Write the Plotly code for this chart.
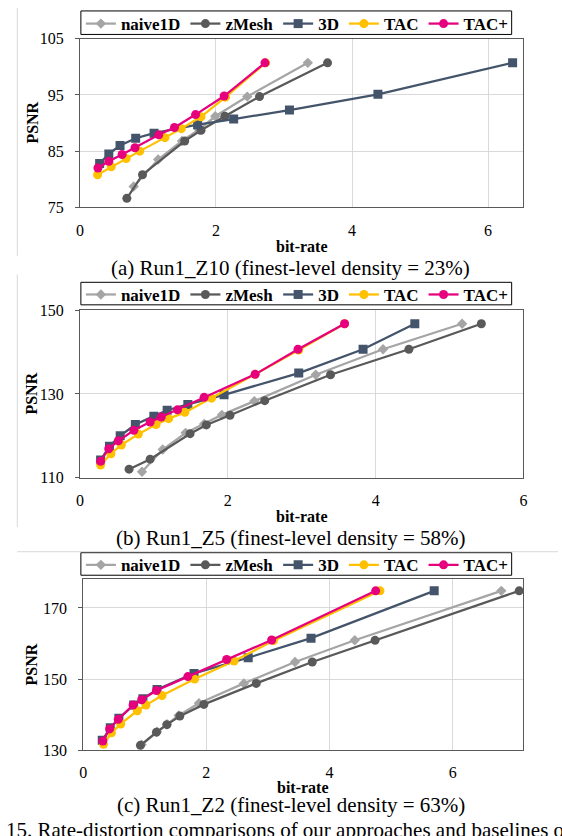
import plotly.graph_objects as go

W, H = 562, 836

series_names = ["naive1D", "zMesh", "3D", "TAC", "TAC+"]
series_colors = ["#A5A5A5", "#595959", "#44546A", "#FFC000", "#E6007E"]
series_symbols = ["diamond", "circle", "square", "circle", "circle"]
series_sizes = [8, 9, 9, 9, 9]

# ---- Panel (a) Run1_Z10 ----
a_naive_x = [0.79, 1.15, 1.50, 1.75, 1.99, 2.46, 3.35]
a_naive_y = [78.7, 83.5, 86.8, 88.8, 91.2, 94.7, 100.7]
a_zmesh_x = [0.69, 0.92, 1.54, 1.78, 2.13, 2.64, 3.64]
a_zmesh_y = [76.6, 80.8, 86.8, 88.7, 91.2, 94.7, 100.7]
a_3d_x = [0.29, 0.425, 0.59, 0.82, 1.09, 1.73, 2.26, 3.08, 4.38, 6.36]
a_3d_y = [82.8, 84.5, 86.0, 87.3, 88.2, 89.7, 90.7, 92.3, 95.1, 100.7]
a_tac_x = [0.26, 0.46, 0.68, 0.88, 1.25, 1.49, 1.78, 2.14, 2.73]
a_tac_y = [80.8, 82.2, 83.7, 85.0, 87.4, 89.0, 91.1, 94.6, 100.7]
a_tacp_x = [0.265, 0.425, 0.62, 0.81, 1.16, 1.39, 1.70, 2.12, 2.72]
a_tacp_y = [82.0, 83.2, 84.4, 85.6, 87.9, 89.2, 91.5, 94.8, 100.7]

# ---- Panel (b) Run1_Z5 ----
b_naive_x = [0.84, 1.12, 1.43, 1.68, 1.92, 2.36, 3.19, 4.10, 5.17]
b_naive_y = [111.4, 116.7, 120.7, 122.8, 125.0, 128.3, 134.6, 140.7, 146.8]
b_zmesh_x = [0.665, 0.95, 1.49, 1.71, 2.03, 2.50, 3.39, 4.45, 5.43]
b_zmesh_y = [112.0, 114.4, 120.5, 122.6, 124.9, 128.4, 134.6, 140.7, 146.8]
b_3d_x = [0.28, 0.40, 0.545, 0.75, 1.0, 1.18, 1.46, 1.95, 2.96, 3.83, 4.53]
b_3d_y = [114.2, 117.5, 120.0, 122.7, 124.7, 126.1, 127.5, 129.8, 135.0, 140.7, 146.8]
b_tac_x = [0.28, 0.42, 0.56, 0.79, 1.03, 1.20, 1.42, 1.78, 2.37, 2.96, 3.58]
b_tac_y = [113.0, 115.7, 117.8, 120.4, 122.7, 124.1, 125.6, 129.0, 134.7, 140.5, 146.8]
b_tacp_x = [0.28, 0.39, 0.52, 0.73, 0.95, 1.10, 1.32, 1.68, 2.37, 2.95, 3.58]
b_tacp_y = [113.9, 116.9, 118.8, 121.3, 123.3, 124.5, 126.2, 129.2, 134.7, 140.7, 146.8]

# ---- Panel (c) Run1_Z2 ----
c_naive_x = [0.95, 1.20, 1.36, 1.55, 1.88, 2.61, 3.44, 4.41, 6.79]
c_naive_y = [131.6, 135.2, 137.3, 139.8, 143.2, 148.8, 154.8, 160.9, 174.8]
c_zmesh_x = [0.93, 1.19, 1.36, 1.57, 1.96, 2.81, 3.72, 4.74, 7.08]
c_zmesh_y = [131.4, 135.1, 137.2, 139.6, 142.9, 148.8, 154.8, 160.9, 174.8]
c_3d_x = [0.31, 0.44, 0.58, 0.82, 0.97, 1.20, 1.80, 2.68, 3.70, 5.70]
c_3d_y = [132.8, 136.3, 139.0, 142.7, 144.5, 147.1, 151.6, 156.0, 161.5, 174.8]
c_tac_x = [0.33, 0.46, 0.61, 0.88, 1.02, 1.28, 1.81, 2.45, 3.09, 4.82]
c_tac_y = [131.7, 134.9, 137.4, 141.1, 142.7, 145.4, 150.0, 155.1, 160.8, 174.8]
c_tacp_x = [0.32, 0.43, 0.57, 0.81, 0.95, 1.19, 1.70, 2.33, 3.06, 4.75]
c_tacp_y = [132.6, 136.0, 138.7, 142.7, 144.2, 146.8, 150.7, 155.5, 161.0, 174.8]

captions = ["(a) Run1_Z10 (finest-level density = 23%)",
            "(b) Run1_Z5 (finest-level density = 58%)",
            "(c) Run1_Z2 (finest-level density = 63%)"]
fig_caption = "15. Rate-distortion comparisons of our approaches and baselines on the Run1 datasets"

panels = [
    [(a_naive_x, a_naive_y), (a_zmesh_x, a_zmesh_y), (a_3d_x, a_3d_y), (a_tac_x, a_tac_y), (a_tacp_x, a_tacp_y)],
    [(b_naive_x, b_naive_y), (b_zmesh_x, b_zmesh_y), (b_3d_x, b_3d_y), (b_tac_x, b_tac_y), (b_tacp_x, b_tacp_y)],
    [(c_naive_x, c_naive_y), (c_zmesh_x, c_zmesh_y), (c_3d_x, c_3d_y), (c_tac_x, c_tac_y), (c_tacp_x, c_tacp_y)],
]

# pixel geometry of each plot area: (left, right, top, bottom)
boxes = [(77, 527, 31.3, 203.5), (77, 527, 308.7, 479.3), (80.3, 527, 583.3, 757.7)]
xranges = [[0, 6.52], [0, 6], [0, 7.15]]
yranges = [[75, 105], [110, 150], [130, 178]]
ydticks = [10, 20, 20]
legend_boxes = [(78, 515, 3, 27), (78, 515, 280, 303), (78, 515, 556, 579)]
caption_y = [265, 541, 814]
xtitle_y = [243, 519, 796]

SERIF = "Liberation Serif"

def px(x):
    return x / W

def py(y):
    return 1 - y / H

fig = go.Figure()
for p, data in enumerate(panels):
    sfx = "" if p == 0 else str(p + 1)
    for i, (xs, ys) in enumerate(data):
        fig.add_trace(go.Scatter(
            x=xs, y=ys, mode="lines+markers", name=series_names[i],
            line=dict(color=series_colors[i], width=2.25),
            marker=dict(color=series_colors[i], symbol=series_symbols[i], size=series_sizes[i]),
            xaxis="x" + sfx, yaxis="y" + sfx, legend="legend" + sfx,
        ))

layout = dict(
    width=W, height=H, margin=dict(l=0, r=0, t=0, b=0),
    paper_bgcolor="white", plot_bgcolor="white",
    font=dict(family=SERIF, color="black", size=16),
)
annotations = []
shapes = []
for p in range(3):
    sfx = "" if p == 0 else str(p + 1)
    l, r, t, b = boxes[p]
    layout["xaxis" + sfx] = dict(
        domain=[px(l), px(r)], range=xranges[p], anchor="y" + sfx,
        dtick=2, tick0=0, showgrid=True, gridcolor="#D9D9D9", gridwidth=1,
        showline=True, linecolor="#595959", linewidth=1, mirror=True,
        ticks="", ticklabelstandoff=8, zeroline=False,
        tickfont=dict(family=SERIF, size=16, color="black"), fixedrange=True,
    )
    layout["yaxis" + sfx] = dict(
        domain=[py(b), py(t)], range=yranges[p], anchor="x" + sfx,
        dtick=ydticks[p], tick0=yranges[p][0], showgrid=True, gridcolor="#D9D9D9", gridwidth=1,
        showline=True, linecolor="#595959", linewidth=1, mirror=True,
        ticks="outside", ticklen=4, tickcolor="#595959", ticklabelstandoff=8, zeroline=False,
        tickfont=dict(family=SERIF, size=16, color="black"), fixedrange=True,
    )
    lx0, lx1, ly0, ly1 = legend_boxes[p]
    center = (ly0 + ly1) / 2
    layout["legend" + sfx] = dict(
        orientation="h", x=px(lx0), xanchor="left", y=py(center - 17), yanchor="top",
        borderwidth=0, bgcolor="rgba(0,0,0,0)",
        font=dict(family=SERIF, size=17, color="black", weight="bold"),
        itemwidth=30, tracegroupgap=0,
    )
    shapes.append(dict(type="rect", xref="paper", yref="paper",
                       x0=px(lx0), x1=px(lx1), y0=py(ly1), y1=py(ly0),
                       line=dict(color="black", width=1), fillcolor="white", layer="below"))
    annotations.append(dict(
        text="<b>PSNR</b>", x=px(28), y=py((t + b) / 2), xref="paper", yref="paper",
        textangle=-90, showarrow=False, xanchor="center", yanchor="middle",
        font=dict(family=SERIF, size=16, color="black"),
    ))
    annotations.append(dict(
        text="<b>bit-rate</b>", x=px((l + r) / 2), y=py(xtitle_y[p]), xref="paper", yref="paper",
        showarrow=False, xanchor="center", yanchor="middle",
        font=dict(family=SERIF, size=16, color="black"),
    ))
    annotations.append(dict(
        text=captions[p], x=px(291), y=py(caption_y[p]), xref="paper", yref="paper",
        showarrow=False, xanchor="center", yanchor="middle",
        font=dict(family=SERIF, size=21, color="black"),
    ))

annotations.append(dict(
    text=fig_caption, x=0, y=py(825), xref="paper", yref="paper",
    showarrow=False, xanchor="left", yanchor="top",
    font=dict(family=SERIF, size=21, color="black"),
))

# faint chart-area borders
shapes.append(dict(type="line", xref="paper", yref="paper", x0=px(13.5), x1=px(13.5), y0=py(0), y1=py(253),
                   line=dict(color="#D9D9D9", width=1)))
shapes.append(dict(type="line", xref="paper", yref="paper", x0=px(13.5), x1=px(13.5), y0=py(272), y1=py(530),
                   line=dict(color="#D9D9D9", width=1)))
shapes.append(dict(type="line", xref="paper", yref="paper", x0=px(13.5), x1=px(562), y0=py(555), y1=py(555),
                   line=dict(color="#D9D9D9", width=1)))

layout["annotations"] = annotations
layout["shapes"] = shapes
fig.update_layout(**layout)

fig.write_html("out.html", config={"displayModeBar": False},
               post_script="document.body.style.margin='0';")
